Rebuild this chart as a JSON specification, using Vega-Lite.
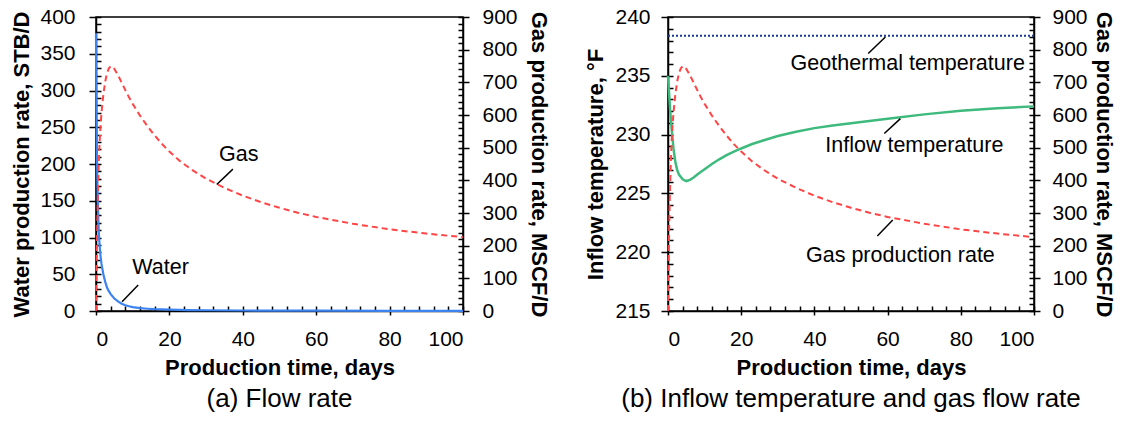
{
  "$schema": "https://vega.github.io/schema/vega-lite/v6.json",
  "background": "white",
  "padding": {"left": 10, "top": 5, "right": 0, "bottom": 0},
  "spacing": 34,
  "config": {
    "font": "Liberation Sans",
    "view": {"stroke": "black", "strokeWidth": 1.5},
    "axis": {
      "grid": false,
      "domainColor": "black",
      "domainWidth": 1.5,
      "tickColor": "black",
      "tickWidth": 1.5,
      "labelColor": "black",
      "labelFont": "Liberation Sans",
      "labelFontSize": 21,
      "titleFont": "Liberation Sans",
      "titleFontSize": 22,
      "titleFontWeight": "bold",
      "titleColor": "black"
    }
  },
  "datasets": {
    "water": [
      {"t": 0, "q": 378}, {"t": 0.1, "q": 300}, {"t": 0.2, "q": 245}, {"t": 0.3, "q": 200},
      {"t": 0.4, "q": 170}, {"t": 0.5, "q": 148}, {"t": 0.65, "q": 122}, {"t": 0.8, "q": 103},
      {"t": 1, "q": 88}, {"t": 1.25, "q": 74}, {"t": 1.5, "q": 64}, {"t": 2, "q": 50},
      {"t": 2.5, "q": 40}, {"t": 3, "q": 32}, {"t": 3.5, "q": 27}, {"t": 4, "q": 23},
      {"t": 5, "q": 17}, {"t": 6, "q": 13}, {"t": 7, "q": 10}, {"t": 8, "q": 7.8},
      {"t": 9, "q": 6.4}, {"t": 10, "q": 5.2}, {"t": 12, "q": 3.9}, {"t": 14, "q": 3.1},
      {"t": 16, "q": 2.5}, {"t": 20, "q": 1.8}, {"t": 25, "q": 1.3}, {"t": 30, "q": 1},
      {"t": 40, "q": 0.7}, {"t": 50, "q": 0.5}, {"t": 60, "q": 0.4}, {"t": 80, "q": 0.3},
      {"t": 100, "q": 0.2}
    ],
    "gas": [
      {"t": 0, "g": 0}, {"t": 0.1, "g": 90}, {"t": 0.2, "g": 170}, {"t": 0.35, "g": 270},
      {"t": 0.5, "g": 350}, {"t": 0.75, "g": 450}, {"t": 1, "g": 520}, {"t": 1.25, "g": 570},
      {"t": 1.5, "g": 607}, {"t": 2, "g": 662}, {"t": 2.5, "g": 702}, {"t": 3, "g": 728},
      {"t": 3.5, "g": 743}, {"t": 4, "g": 749}, {"t": 4.5, "g": 748}, {"t": 5, "g": 741},
      {"t": 6, "g": 722}, {"t": 7, "g": 699}, {"t": 8, "g": 676}, {"t": 9, "g": 654},
      {"t": 10, "g": 634}, {"t": 12, "g": 598}, {"t": 14, "g": 566}, {"t": 16, "g": 537},
      {"t": 18, "g": 511}, {"t": 20, "g": 488}, {"t": 23, "g": 458}, {"t": 26, "g": 433},
      {"t": 30, "g": 405}, {"t": 35, "g": 377}, {"t": 40, "g": 353}, {"t": 45, "g": 333},
      {"t": 50, "g": 316}, {"t": 55, "g": 301}, {"t": 60, "g": 288}, {"t": 70, "g": 267},
      {"t": 80, "g": 250}, {"t": 90, "g": 237}, {"t": 100, "g": 226}
    ],
    "temp": [
      {"t": 0, "T": 235}, {"t": 0.3, "T": 233.5}, {"t": 0.6, "T": 232}, {"t": 1, "T": 230.5},
      {"t": 1.5, "T": 228.8}, {"t": 2, "T": 227.7}, {"t": 2.5, "T": 227}, {"t": 3, "T": 226.6},
      {"t": 4, "T": 226.2}, {"t": 5, "T": 226.05}, {"t": 6, "T": 226.15}, {"t": 7, "T": 226.35},
      {"t": 8, "T": 226.6}, {"t": 10, "T": 227.05}, {"t": 12, "T": 227.5}, {"t": 14, "T": 227.9},
      {"t": 16, "T": 228.25}, {"t": 18, "T": 228.55}, {"t": 20, "T": 228.82}, {"t": 23, "T": 229.2},
      {"t": 26, "T": 229.5}, {"t": 30, "T": 229.88}, {"t": 35, "T": 230.25}, {"t": 40, "T": 230.55},
      {"t": 45, "T": 230.77}, {"t": 50, "T": 230.97}, {"t": 60, "T": 231.35}, {"t": 70, "T": 231.72},
      {"t": 80, "T": 232.02}, {"t": 90, "T": 232.24}, {"t": 100, "T": 232.4}
    ],
    "geo": [{"t": 0, "T": 238.4}, {"t": 100, "T": 238.4}],
    "labelsA": [
      {"t": 38.9, "v": 212, "label": "Gas"},
      {"t": 17.6, "v": 59, "label": "Water"}
    ],
    "leadersA": [
      {"t": 32.9, "v": 172, "t2": 37.3, "v2": 193},
      {"t": 7.1, "v": 12.7, "t2": 11.5, "v2": 35.3}
    ],
    "labelsB": [
      {"t": 65.5, "v": 236.04, "label": "Geothermal temperature"},
      {"t": 67.3, "v": 229.04, "label": "Inflow temperature"},
      {"t": 63.5, "v": 219.67, "label": "Gas production rate"}
    ],
    "leadersB": [
      {"t": 54.7, "v": 236.9, "t2": 59.4, "v2": 238.3},
      {"t": 59.1, "v": 230.09, "t2": 63.5, "v2": 231.36},
      {"t": 57.2, "v": 221.37, "t2": 61.4, "v2": 222.73}
    ]
  },
  "hconcat": [
    {
      "width": 367,
      "height": 294,
      "title": {"text": "(a) Flow rate", "orient": "bottom", "fontSize": 26, "fontWeight": "normal", "font": "Liberation Sans", "color": "black", "offset": 8},
      "resolve": {"scale": {"x": "independent", "y": "independent"}},
      "layer": [
        {
          "data": {"name": "water"},
          "mark": {"type": "line", "color": "#3d83f0", "strokeWidth": 2.2},
          "encoding": {
            "x": {"field": "t", "type": "quantitative", "scale": {"domain": [0, 100]},
                  "axis": {"orient": "bottom", "values": [0, 20, 40, 60, 80, 100], "tickSize": 4, "labelPadding": 13, "title": "Production time, days", "titlePadding": 8}},
            "y": {"field": "q", "type": "quantitative", "scale": {"domain": [0, 400]},
                  "axis": {"orient": "left", "values": [0, 50, 100, 150, 200, 250, 300, 350, 400], "tickSize": 7, "labelPadding": 14, "title": "Water production rate, STB/D", "titlePadding": 6}}
          }
        },
        {
          "data": {"name": "gas"},
          "mark": {"type": "line", "color": "#ff4545", "strokeWidth": 2, "strokeDash": [6, 4]},
          "encoding": {
            "x": {"field": "t", "type": "quantitative", "scale": {"domain": [0, 100]},
                  "axis": {"orient": "bottom", "values": [0, 4, 8, 12, 16, 20, 24, 28, 32, 36, 40, 44, 48, 52, 56, 60, 64, 68, 72, 76, 80, 84, 88, 92, 96, 100], "tickSize": -5, "labels": false, "domain": false, "title": null}},
            "y": {"field": "g", "type": "quantitative", "scale": {"domain": [0, 900]},
                  "axis": {"orient": "right", "values": [0, 100, 200, 300, 400, 500, 600, 700, 800, 900], "tickSize": 6, "labelPadding": 13, "title": "Gas production rate, MSCF/D", "titlePadding": 9}}
          }
        },
        {
          "data": {"name": "water"},
          "mark": {"type": "line", "opacity": 0},
          "encoding": {
            "x": {"field": "t", "type": "quantitative", "scale": {"domain": [0, 100]}, "axis": null},
            "y": {"field": "q", "type": "quantitative", "scale": {"domain": [0, 400]},
                  "axis": {"orient": "left", "values": [0, 10, 20, 30, 40, 50, 60, 70, 80, 90, 100, 110, 120, 130, 140, 150, 160, 170, 180, 190, 200, 210, 220, 230, 240, 250, 260, 270, 280, 290, 300, 310, 320, 330, 340, 350, 360, 370, 380, 390, 400], "tickSize": -5, "labels": false, "domain": false, "title": null}}
          }
        },
        {
          "data": {"name": "gas"},
          "mark": {"type": "line", "opacity": 0},
          "encoding": {
            "x": {"field": "t", "type": "quantitative", "scale": {"domain": [0, 100]}, "axis": null},
            "y": {"field": "g", "type": "quantitative", "scale": {"domain": [0, 900]},
                  "axis": {"orient": "right", "values": [0, 20, 40, 60, 80, 100, 120, 140, 160, 180, 200, 220, 240, 260, 280, 300, 320, 340, 360, 380, 400, 420, 440, 460, 480, 500, 520, 540, 560, 580, 600, 620, 640, 660, 680, 700, 720, 740, 760, 780, 800, 820, 840, 860, 880, 900], "tickSize": -5, "labels": false, "domain": false, "title": null}}
          }
        },
        {
          "data": {"name": "labelsA"},
          "mark": {"type": "text", "fontSize": 21.5, "font": "Liberation Sans", "color": "black", "align": "center", "baseline": "middle"},
          "encoding": {
            "x": {"field": "t", "type": "quantitative", "scale": {"domain": [0, 100]}, "axis": null},
            "y": {"field": "v", "type": "quantitative", "scale": {"domain": [0, 400]}, "axis": null},
            "text": {"field": "label"}
          }
        },
        {
          "data": {"name": "leadersA"},
          "mark": {"type": "rule", "color": "black", "strokeWidth": 1.5},
          "encoding": {
            "x": {"field": "t", "type": "quantitative", "scale": {"domain": [0, 100]}, "axis": null},
            "y": {"field": "v", "type": "quantitative", "scale": {"domain": [0, 400]}, "axis": null},
            "x2": {"field": "t2"},
            "y2": {"field": "v2"}
          }
        }
      ]
    },
    {
      "width": 366,
      "height": 294,
      "title": {"text": "(b) Inflow temperature and gas flow rate", "orient": "bottom", "fontSize": 26, "fontWeight": "normal", "font": "Liberation Sans", "color": "black", "offset": 8},
      "resolve": {"scale": {"x": "independent", "y": "independent"}},
      "layer": [
        {
          "data": {"name": "temp"},
          "mark": {"type": "line", "color": "#3dba7c", "strokeWidth": 2.5},
          "encoding": {
            "x": {"field": "t", "type": "quantitative", "scale": {"domain": [0, 100]},
                  "axis": {"orient": "bottom", "values": [0, 20, 40, 60, 80, 100], "tickSize": 4, "labelPadding": 13, "title": "Production time, days", "titlePadding": 8}},
            "y": {"field": "T", "type": "quantitative", "scale": {"domain": [215, 240], "zero": false},
                  "axis": {"orient": "left", "values": [215, 220, 225, 230, 235, 240], "tickSize": 7, "labelPadding": 11, "title": "Inflow temperature, °F", "titlePadding": 7}}
          }
        },
        {
          "data": {"name": "gas"},
          "mark": {"type": "line", "color": "#ff4545", "strokeWidth": 2, "strokeDash": [6, 4]},
          "encoding": {
            "x": {"field": "t", "type": "quantitative", "scale": {"domain": [0, 100]},
                  "axis": {"orient": "bottom", "values": [0, 4, 8, 12, 16, 20, 24, 28, 32, 36, 40, 44, 48, 52, 56, 60, 64, 68, 72, 76, 80, 84, 88, 92, 96, 100], "tickSize": -5, "labels": false, "domain": false, "title": null}},
            "y": {"field": "g", "type": "quantitative", "scale": {"domain": [0, 900]},
                  "axis": {"orient": "right", "values": [0, 100, 200, 300, 400, 500, 600, 700, 800, 900], "tickSize": 6, "labelPadding": 12, "title": "Gas production rate, MSCF/D", "titlePadding": 4}}
          }
        },
        {
          "data": {"name": "geo"},
          "mark": {"type": "line", "color": "#1a3a8f", "strokeWidth": 2, "strokeDash": [2, 2]},
          "encoding": {
            "x": {"field": "t", "type": "quantitative", "scale": {"domain": [0, 100]}, "axis": null},
            "y": {"field": "T", "type": "quantitative", "scale": {"domain": [215, 240], "zero": false},
                  "axis": {"orient": "left", "values": [215, 216, 217, 218, 219, 220, 221, 222, 223, 224, 225, 226, 227, 228, 229, 230, 231, 232, 233, 234, 235, 236, 237, 238, 239, 240], "tickSize": -5, "labels": false, "domain": false, "title": null}}
          }
        },
        {
          "data": {"name": "gas"},
          "mark": {"type": "line", "opacity": 0},
          "encoding": {
            "x": {"field": "t", "type": "quantitative", "scale": {"domain": [0, 100]}, "axis": null},
            "y": {"field": "g", "type": "quantitative", "scale": {"domain": [0, 900]},
                  "axis": {"orient": "right", "values": [0, 20, 40, 60, 80, 100, 120, 140, 160, 180, 200, 220, 240, 260, 280, 300, 320, 340, 360, 380, 400, 420, 440, 460, 480, 500, 520, 540, 560, 580, 600, 620, 640, 660, 680, 700, 720, 740, 760, 780, 800, 820, 840, 860, 880, 900], "tickSize": -5, "labels": false, "domain": false, "title": null}}
          }
        },
        {
          "data": {"name": "labelsB"},
          "mark": {"type": "text", "fontSize": 21.5, "font": "Liberation Sans", "color": "black", "align": "center", "baseline": "middle"},
          "encoding": {
            "x": {"field": "t", "type": "quantitative", "scale": {"domain": [0, 100]}, "axis": null},
            "y": {"field": "v", "type": "quantitative", "scale": {"domain": [215, 240], "zero": false}, "axis": null},
            "text": {"field": "label"}
          }
        },
        {
          "data": {"name": "leadersB"},
          "mark": {"type": "rule", "color": "black", "strokeWidth": 1.5},
          "encoding": {
            "x": {"field": "t", "type": "quantitative", "scale": {"domain": [0, 100]}, "axis": null},
            "y": {"field": "v", "type": "quantitative", "scale": {"domain": [215, 240], "zero": false}, "axis": null},
            "x2": {"field": "t2"},
            "y2": {"field": "v2"}
          }
        }
      ]
    }
  ]
}
